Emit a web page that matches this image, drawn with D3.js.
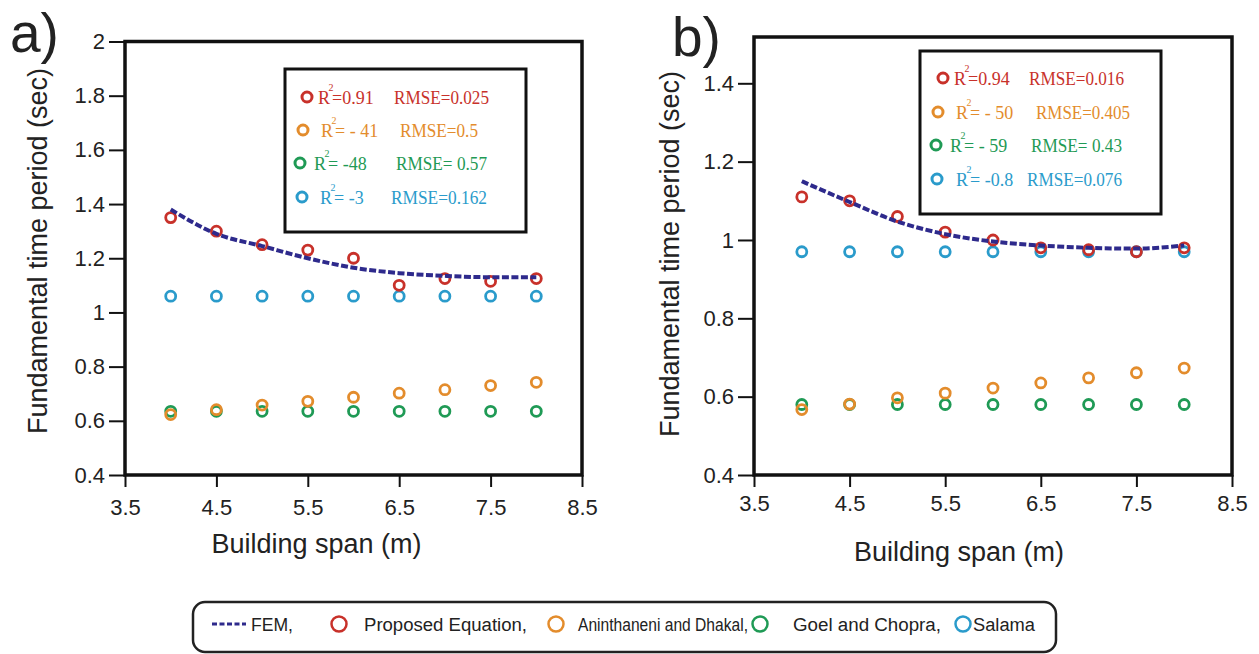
<!DOCTYPE html>
<html>
<head>
<meta charset="utf-8">
<script src="https://cdn.jsdelivr.net/npm/d3@7"></script>
<style>
  html, body { margin: 0; padding: 0; background: #fff; }
  svg { display: block; }
</style>
</head>
<body>
<svg id="chart" width="1259" height="654"></svg>
<script>
// ---------------- DATA ----------------
const spans = [4, 4.5, 5, 5.5, 6, 6.5, 7, 7.5, 8];
const xTicks = [3.5, 4.5, 5.5, 6.5, 7.5, 8.5];
const yTicksA = [0.4, 0.6, 0.8, 1, 1.2, 1.4, 1.6, 1.8, 2];
const yTicksB = [0.4, 0.6, 0.8, 1, 1.2, 1.4];

// Panel a
const femA      = [1.38, 1.29, 1.245, 1.20, 1.165, 1.145, 1.135, 1.13, 1.13];
const proposedA = [1.35, 1.30, 1.25, 1.23, 1.20, 1.10, 1.125, 1.115, 1.125];
const aninA     = [0.623, 0.641, 0.658, 0.672, 0.687, 0.702, 0.715, 0.73, 0.742];
const goelA     = [0.635, 0.635, 0.635, 0.635, 0.635, 0.635, 0.635, 0.635, 0.635];
const salamaA   = [1.06, 1.06, 1.06, 1.06, 1.06, 1.06, 1.06, 1.06, 1.06];
const r2A   = ["=0.91", "= - 41", "= -48", "= -3"];
const rmseA = ["RMSE=0.025", "RMSE=0.5", "RMSE= 0.57", "RMSE=0.162"];

// Panel b
const femB      = [1.15, 1.097, 1.047, 1.015, 0.996, 0.986, 0.98, 0.978, 0.986];
const proposedB = [1.11, 1.10, 1.06, 1.02, 1.00, 0.98, 0.975, 0.97, 0.98];
const aninB     = [0.567, 0.581, 0.597, 0.609, 0.622, 0.635, 0.648, 0.661, 0.673];
const goelB     = [0.58, 0.58, 0.58, 0.58, 0.58, 0.58, 0.58, 0.58, 0.58];
const salamaB   = [0.97, 0.97, 0.97, 0.97, 0.97, 0.97, 0.97, 0.97, 0.97];
const r2B   = ["=0.94", "= - 50", "= - 59", "= -0.8"];
const rmseB = ["RMSE=0.016", "RMSE=0.405", "RMSE= 0.43", "RMSE=0.076"];

const seriesNames = ["FEM,", "Proposed Equation,", "Aninthaneni and Dhakal,", "Goel and Chopra,", "Salama"];

// ---------------- STYLE ----------------
const C = {
  fem: "#2e2a8c",
  red: "#c8312a",
  orange: "#e38c2c",
  green: "#1f9a55",
  blue: "#2a9bcb"
};
const circleColors = [C.red, C.orange, C.green, C.blue];
const SANS = "'Liberation Sans', Arial, sans-serif";
const SERIF = "'Liberation Serif', 'Times New Roman', serif";

const svg = d3.select("#chart");

function drawPanel(cfg) {
  const g = svg.append("g");
  const x = d3.scaleLinear().domain([3.5, 8.5]).range([cfg.left, cfg.right]);
  const y = d3.scaleLinear().domain(cfg.yDomain).range([cfg.bottom, cfg.top]);

  // Axes
  const yAxis = d3.axisLeft(y).tickValues(cfg.yTicks).tickSize(16).tickSizeOuter(0).tickPadding(4)
    .tickFormat(d => d3.format("")(+d.toFixed(1)));
  const ya = g.append("g").attr("transform", `translate(${cfg.left},0)`).call(yAxis);
  const xAxis = d3.axisBottom(x).tickValues(xTicks).tickSize(12).tickSizeOuter(0).tickPadding(cfg.xPad)
    .tickFormat(d3.format(".1f"));
  const xa = g.append("g").attr("transform", `translate(0,${cfg.bottom})`).call(xAxis);
  [ya, xa].forEach(a => {
    a.select(".domain").remove();
    a.selectAll(".tick line").attr("stroke", "#111").attr("stroke-width", 2);
    a.selectAll(".tick text").attr("fill", "#222").style("font-family", SANS).style("font-size", "22px");
  });

  // Frame
  g.append("rect")
    .attr("x", cfg.left).attr("y", cfg.top)
    .attr("width", cfg.right - cfg.left).attr("height", cfg.bottom - cfg.top)
    .attr("fill", "none").attr("stroke", "#111").attr("stroke-width", 3.5);

  // Markers
  const sets = [
    [cfg.salama, C.blue],
    [cfg.goel, C.green],
    [cfg.anin, C.orange],
    [cfg.proposed, C.red]
  ];
  sets.forEach(([vals, col]) => {
    g.append("g").selectAll("circle").data(vals).join("circle")
      .attr("cx", (d, i) => x(spans[i]))
      .attr("cy", d => y(d))
      .attr("r", 5)
      .attr("fill", "none")
      .attr("stroke", col)
      .attr("stroke-width", 2.8);
  });

  // FEM line
  const line = d3.line()
    .x((d, i) => x(spans[i]))
    .y(d => y(d))
    .curve(d3.curveMonotoneX);
  g.append("path").datum(cfg.fem)
    .attr("d", line)
    .attr("fill", "none")
    .attr("stroke", C.fem)
    .attr("stroke-width", 4)
    .attr("stroke-dasharray", "7,2.5");

  // Axis labels
  g.append("text")
    .attr("x", (cfg.left + cfg.right) / 2 + cfg.xLabelDx)
    .attr("y", cfg.xLabelY)
    .attr("text-anchor", "middle")
    .attr("fill", "#222")
    .style("font-family", SANS)
    .style("font-size", "27px")
    .text("Building span (m)");
  g.append("text")
    .attr("transform", `translate(${cfg.yLabelX},${cfg.yLabelY}) rotate(-90)`)
    .attr("text-anchor", "middle")
    .attr("fill", "#222")
    .style("font-family", SANS)
    .style("font-size", "27px")
    .text("Fundamental time period (sec)");

  // Panel letter
  g.append("text")
    .attr("x", cfg.letterX).attr("y", cfg.letterY)
    .attr("fill", "#222")
    .style("font-family", SANS)
    .style("font-size", "55px")
    .text(cfg.letter);

  // Inset legend
  const b = cfg.box;
  g.append("rect")
    .attr("x", b.x0).attr("y", b.y0).attr("width", b.x1 - b.x0).attr("height", b.y1 - b.y0)
    .attr("fill", "#fff").attr("stroke", "#111").attr("stroke-width", 3);
  cfg.r2.forEach((t, i) => {
    const col = circleColors[i];
    const cy = b.rows[i];
    g.append("circle").attr("cx", b.cx[i]).attr("cy", cy).attr("r", 5)
      .attr("fill", "none").attr("stroke", col).attr("stroke-width", 3);
    g.append("text").attr("x", b.rx[i]).attr("y", cy + 6.5).attr("fill", col)
      .style("font-family", SERIF).style("font-size", "18px").text("R");
    g.append("text").attr("x", b.rx[i] + 10.5).attr("y", cy - 6).attr("fill", col)
      .style("font-family", SERIF).style("font-size", "10px").text("2");
    g.append("text").attr("x", b.rx[i] + 14).attr("y", cy + 6.5).attr("fill", col)
      .style("font-family", SERIF).style("font-size", "18px").text(t);
    g.append("text").attr("x", b.mx[i]).attr("y", cy + 6.5).attr("fill", col)
      .style("font-family", SERIF).style("font-size", "18px")
      .attr("textLength", b.mw[i]).attr("lengthAdjust", "spacingAndGlyphs")
      .text(cfg.rmse[i]);
  });
}

drawPanel({
  letter: "a)", letterX: 10, letterY: 52,
  left: 125, right: 582, top: 41.5, bottom: 475,
  yDomain: [0.4, 2], yTicks: yTicksA, xPad: 12,
  fem: femA, proposed: proposedA, anin: aninA, goel: goelA, salama: salamaA,
  xLabelY: 553, xLabelDx: -37, yLabelX: 47, yLabelY: 251,
  r2: r2A, rmse: rmseA,
  box: { x0: 285, x1: 526, y0: 69, y1: 232,
         rows: [97, 130, 163, 197],
         cx: [307, 303, 300, 302], rx: [318, 321, 314, 320],
         mx: [394, 400, 396, 391], mw: [95, 78, 91, 96] }
});

drawPanel({
  letter: "b)", letterX: 672, letterY: 56,
  left: 754, right: 1232, top: 37, bottom: 475,
  yDomain: [0.4, 0.4 + (475 - 37) / ((475 - 83.3) / 1.0)], yTicks: yTicksB, xPad: 8,
  fem: femB, proposed: proposedB, anin: aninB, goel: goelB, salama: salamaB,
  xLabelY: 561, xLabelDx: -34, yLabelX: 679, yLabelY: 254,
  r2: r2B, rmse: rmseB,
  box: { x0: 920, x1: 1161, y0: 51, y1: 214,
         rows: [78, 112, 145, 179],
         cx: [943, 938, 936, 937], rx: [954, 956, 950, 956],
         mx: [1029, 1036, 1031, 1027], mw: [95, 94, 91, 95] }
});

// ---------------- Bottom legend ----------------
const lg = svg.append("g");
lg.append("rect").attr("x", 193).attr("y", 602).attr("width", 863).attr("height", 50)
  .attr("rx", 12).attr("fill", "#fff").attr("stroke", "#222").attr("stroke-width", 2.5);
const legY = 624;
lg.append("line").attr("x1", 212).attr("x2", 246).attr("y1", legY).attr("y2", legY)
  .attr("stroke", C.fem).attr("stroke-width", 3).attr("stroke-dasharray", "5,2.5");
const legItems = [
  { name: seriesNames[0], tx: 251, w: 42, fs: 18, col: null },
  { name: seriesNames[1], tx: 364, w: 163, fs: 18, col: C.red, cx: 339 },
  { name: seriesNames[2], tx: 578, w: 170, fs: 17.5, col: C.orange, cx: 556 },
  { name: seriesNames[3], tx: 793, w: 148, fs: 18, col: C.green, cx: 760 },
  { name: seriesNames[4], tx: 973, w: 62, fs: 18, col: C.blue, cx: 963 }
];
legItems.forEach(it => {
  if (it.col) {
    lg.append("circle").attr("cx", it.cx).attr("cy", legY).attr("r", 7.5)
      .attr("fill", "none").attr("stroke", it.col).attr("stroke-width", 2.5);
  }
  lg.append("text").attr("x", it.tx).attr("y", legY + 6.5).attr("fill", "#222")
    .style("font-family", SANS).style("font-size", it.fs + "px")
    .attr("textLength", it.w).attr("lengthAdjust", "spacingAndGlyphs")
    .text(it.name);
});
</script>
</body>
</html>
